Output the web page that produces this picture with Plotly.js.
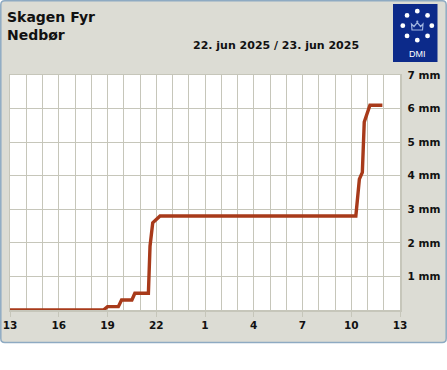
<!DOCTYPE html>
<html><head><meta charset="utf-8">
<script src="https://cdn.plot.ly/plotly-3.0.1.min.js"></script>
<style>html,body{margin:0;padding:0;background:#fff}#c{width:447px;height:370px}</style>
</head><body><div id="c"></div>
<script>
// Data: cumulative precipitation (mm), Skagen Fyr, 22-23 jun 2025
const times = [
  "2025-06-22 13:00","2025-06-22 18:45","2025-06-22 19:00","2025-06-22 19:40",
  "2025-06-22 19:52","2025-06-22 20:30","2025-06-22 20:41","2025-06-22 21:31",
  "2025-06-22 21:37","2025-06-22 21:47","2025-06-22 22:14","2025-06-23 10:17",
  "2025-06-23 10:30","2025-06-23 10:41","2025-06-23 10:48","2025-06-23 11:09",
  "2025-06-23 11:55"
];
const precip = [0,0,0.1,0.1,0.3,0.3,0.5,0.5,1.9,2.6,2.8,2.8,3.9,4.1,5.6,6.1,6.1];
const yTickVals = [1,2,3,4,5,6,7];
const yTickText = ["1 mm","2 mm","3 mm","4 mm","5 mm","6 mm","7 mm"];
const station = "Skagen Fyr";
const param = "Nedbør";
const period = "22. jun 2025 / 23. jun 2025";

const L=10, T=75, W=390, H=235;
const px = x => (x-L)/W;
const py = y => (T+H-y)/H;
const grid = '#c6c6ba';

const shapes = [];
function rrect(x0,y0,x1,y1,r){
  return `M${px(x0+r)},${py(y0)} L${px(x1-r)},${py(y0)} Q${px(x1)},${py(y0)} ${px(x1)},${py(y0+r)} `+
    `L${px(x1)},${py(y1-r)} Q${px(x1)},${py(y1)} ${px(x1-r)},${py(y1)} L${px(x0+r)},${py(y1)} `+
    `Q${px(x0)},${py(y1)} ${px(x0)},${py(y1-r)} L${px(x0)},${py(y0+r)} Q${px(x0)},${py(y0)} ${px(x0+r)},${py(y0)} Z`;
}
shapes.push({type:'path', xref:'paper', yref:'paper', layer:'below', path: rrect(0.8,0.8,446.2,342.5,4),
  fillcolor:'#dcdcd4', line:{color:'#8eaac2', width:1.5}});
shapes.push({type:'rect', xref:'paper', yref:'paper', layer:'below', x0:0, x1:1, y0:0, y1:1,
  fillcolor:'#ffffff', line:{width:0}});
// logo
shapes.push({type:'rect', xref:'paper', yref:'paper', x0:px(393), x1:px(437.5), y0:py(62), y1:py(4),
  fillcolor:'#0c2a8a', line:{width:0}});
const cx=417.3, cy=25.7, R=14.5, dr=2.4;
for(let i=0;i<8;i++){
  const a=i*Math.PI/4;
  const x=cx+R*Math.sin(a), y=cy-R*Math.cos(a);
  shapes.push({type:'circle', xref:'paper', yref:'paper', x0:px(x-dr), x1:px(x+dr), y0:py(y+dr), y1:py(y-dr),
    fillcolor:'#ffffff', line:{width:0}});
}
const crown = [[412,30],[411.5,24],[414,26.5],[417.3,22.5],[420.6,26.5],[423,24],[422.5,30]];
let cp = 'M'+crown.map(p=>px(p[0])+','+py(p[1])).join(' L')+' Z';
shapes.push({type:'path', xref:'paper', yref:'paper', path:cp, fillcolor:'rgba(0,0,0,0)', line:{color:'#9fb4e0', width:1.2}});
shapes.push({type:'circle', xref:'paper', yref:'paper', x0:px(416.2), x1:px(418.4), y0:py(22.6), y1:py(20.4),
  fillcolor:'#9fb4e0', line:{width:0}});

const annotations = [
  {text:station, xref:'paper', yref:'paper', x:px(5), y:py(16.5), xanchor:'left', yanchor:'middle', showarrow:false,
   font:{family:'DejaVu Sans', size:14, color:'#111', weight:'bold'}},
  {text:param, xref:'paper', yref:'paper', x:px(5), y:py(35), xanchor:'left', yanchor:'middle', showarrow:false,
   font:{family:'DejaVu Sans', size:14, color:'#111', weight:'bold'}},
  {text:period, xref:'paper', yref:'paper', x:px(276), y:py(45), xanchor:'center', yanchor:'middle', showarrow:false,
   font:{family:'DejaVu Sans', size:11, color:'#111', weight:'bold'}},
  {text:'DMI', xref:'paper', yref:'paper', x:px(417.3), y:py(54), xanchor:'center', yanchor:'middle', showarrow:false,
   font:{family:'Liberation Sans', size:9, color:'#ffffff'}}
];

const trace = {x:times, y:precip, type:'scatter', mode:'lines',
  line:{color:'#a83a1a', width:3.4}, hoverinfo:'skip'};

const layout = {
  width:447, height:370,
  margin:{l:L, r:447-L-W, t:T, b:370-T-H, pad:0},
  paper_bgcolor:'#ffffff', plot_bgcolor:'#ffffff',
  showlegend:false,
  xaxis:{type:'date', range:['2025-06-22 13:00','2025-06-23 13:00'],
    tick0:'2025-06-22 13:00', dtick:3*3600000, tickformat:'%-H',
    ticks:'outside', ticklen:5, tickcolor:grid, tickwidth:1,
    showgrid:true, gridcolor:grid, gridwidth:1,
    minor:{dtick:3600000, showgrid:true, gridcolor:grid, gridwidth:1, ticks:''},
    showline:true, mirror:true, linecolor:grid, linewidth:1.5,
    zeroline:false, fixedrange:true,
    tickfont:{family:'DejaVu Sans', size:10.5, color:'#111', weight:'bold'}},
  yaxis:{range:[0,7], side:'right', tickvals:yTickVals, ticktext:yTickText,
    ticks:'outside', ticklen:4, tickcolor:'rgba(0,0,0,0)',
    showgrid:true, gridcolor:grid, gridwidth:1,
    showline:true, mirror:true, linecolor:grid, linewidth:1.5,
    zeroline:false, fixedrange:true,
    tickfont:{family:'DejaVu Sans', size:10.5, color:'#111', weight:'bold'}},
  shapes:shapes, annotations:annotations
};
Plotly.newPlot('c',[trace],layout,{displayModeBar:false, staticPlot:true});
</script></body></html>
